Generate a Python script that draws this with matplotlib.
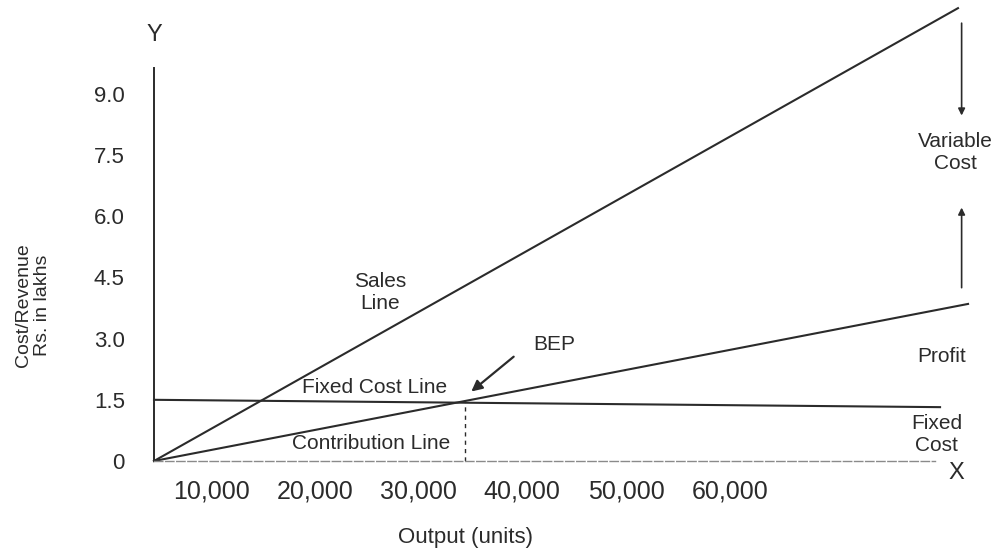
import matplotlib.pyplot as plt
from matplotlib.transforms import ScaledTranslation

# break-even chart data (output in units, cost/revenue in Rs. lakhs)
sales_x = [0, 77550]
sales_y = [0, 11.10]
contrib_x = [0, 78520]
contrib_y = [0, 3.85]
fixed_x = [0, 75820]
fixed_y = [1.5, 1.32]
bep_x = 30000
bep_y = 1.47

x_ticks = [10000, 20000, 30000, 40000, 50000, 60000]
y_ticks = [0, 1.5, 3.0, 4.5, 6.0, 7.5, 9.0]
y_tick_labels = ['0', '1.5', '3.0', '4.5', '6.0', '7.5', '9.0']

plt.rcParams['font.family'] = ['Liberation Sans', 'DejaVu Sans']
ink = '#2b2b2b'

fig = plt.figure(figsize=(9.95, 5.5), dpi=100)
ax = fig.add_axes([154 / 995, 89 / 550, 841 / 995, 461 / 550])
ax.set_xlim(0, 81120)
ax.set_ylim(0, 11.30)

# axes
for s in ['top', 'right']:
    ax.spines[s].set_visible(False)
ax.spines['left'].set_bounds(0, 9.63)
ax.spines['left'].set_color(ink)
ax.spines['left'].set_linewidth(1.4)
ax.spines['bottom'].set_bounds(0, 75300)
ax.spines['bottom'].set_color('#8a8a8a')
ax.spines['bottom'].set_linewidth(1.0)
ax.spines['bottom'].set_linestyle((0, (6, 2)))

ax.set_xticks(x_ticks)
ax.set_xticklabels([f'{v:,}' for v in x_ticks], ha='right')
ax.set_yticks(y_ticks)
ax.set_yticklabels(y_tick_labels)
ax.tick_params(axis='x', length=0, pad=13, labelsize=18, labelcolor=ink)
ax.tick_params(axis='y', length=0, pad=21, labelsize=16, labelcolor=ink)
shift = ScaledTranslation(-8 / 100, 0, fig.dpi_scale_trans)
for lab in ax.get_xticklabels():
    lab.set_transform(lab.get_transform() + shift)

# lines
ax.plot(sales_x, sales_y, color=ink, lw=1.5, clip_on=False)
ax.plot(contrib_x, contrib_y, color=ink, lw=1.5, clip_on=False)
ax.plot(fixed_x, fixed_y, color=ink, lw=1.5, clip_on=False)
ax.plot([bep_x, bep_x], [0, bep_y], color=ink, lw=1.0, ls=(0, (3, 3)))

# BEP arrow
ax.annotate('', xy=(30400, 1.66), xytext=(34900, 2.60),
            arrowprops=dict(arrowstyle='-|>', color=ink, lw=1.6, mutation_scale=16))
ax.text(36600, 2.85, 'BEP', fontsize=15, color=ink, va='center', ha='left')

# variable cost arrows
ax.annotate('', xy=(77900, 8.40), xytext=(77900, 10.80),
            arrowprops=dict(arrowstyle='-|>', color=ink, lw=1.2, mutation_scale=10))
ax.annotate('', xy=(77900, 6.28), xytext=(77900, 4.18),
            arrowprops=dict(arrowstyle='-|>', color=ink, lw=1.2, mutation_scale=10))

# labels inside the chart
ax.text(21800, 4.13, 'Sales\nLine', fontsize=15, color=ink, ha='center', va='center', linespacing=1.2)
ax.text(21300, 1.81, 'Fixed Cost Line', fontsize=15, color=ink, ha='center', va='center')
ax.text(20900, 0.44, 'Contribution Line', fontsize=15, color=ink, ha='center', va='center')
ax.text(77300, 7.57, 'Variable\nCost', fontsize=15, color=ink, ha='center', va='center', linespacing=1.2)
ax.text(76000, 2.55, 'Profit', fontsize=15, color=ink, ha='center', va='center')
ax.text(75500, 0.64, 'Fixed\nCost', fontsize=15, color=ink, ha='center', va='center', linespacing=1.2)

# axis letters and titles
ax.text(0.0, 10.45, 'Y', fontsize=17, color=ink, ha='center', va='center')
ax.text(77400, -0.30, 'X', fontsize=17, color=ink, ha='center', va='center', clip_on=False)
fig.text(0.5 * 930 / 995, 1 - 537 / 550, 'Output (units)', fontsize=16, color=ink,
         ha='center', va='center')
fig.text(33 / 995, 1 - 305 / 550, 'Cost/Revenue\nRs. in lakhs', fontsize=14, color=ink,
         ha='center', va='center', rotation=90, linespacing=1.2)

fig.savefig('out.png', dpi=100)
